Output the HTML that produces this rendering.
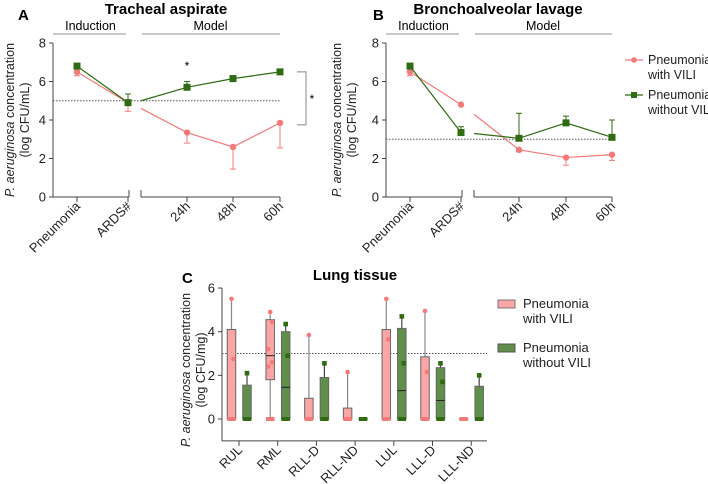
<!DOCTYPE html>
<html><head><meta charset="utf-8"><style>
html,body{margin:0;padding:0;background:#fff}
svg{display:block;font-family:"Liberation Sans",Arial,sans-serif}
</style></head><body>
<svg id="fig" width="708" height="484" viewBox="0 0 708 484">
<g id="static">
<text x="18" y="20" font-size="15" font-weight="bold">A</text>
<text x="166" y="14" font-size="15" font-weight="bold" text-anchor="middle">Tracheal aspirate</text>
<text x="373" y="20" font-size="15" font-weight="bold">B</text>
<text x="498" y="14" font-size="15" font-weight="bold" text-anchor="middle">Bronchoalveolar lavage</text>
<text x="182" y="283" font-size="15" font-weight="bold">C</text>
<text x="355" y="280" font-size="15" font-weight="bold" text-anchor="middle">Lung tissue</text>
<g font-size="12.5" text-anchor="middle" fill="#222">
<text transform="translate(14,120) rotate(-90)"><tspan font-style="italic">P. aeruginosa</tspan> concentration</text>
<text transform="translate(29,120) rotate(-90)">(log CFU/mL)</text>
<text transform="translate(341,120) rotate(-90)"><tspan font-style="italic">P. aeruginosa</tspan> concentration</text>
<text transform="translate(356,120) rotate(-90)">(log CFU/mL)</text>
<text transform="translate(190,370) rotate(-90)"><tspan font-style="italic">P. aeruginosa</tspan> concentration</text>
<text transform="translate(205,370) rotate(-90)">(log CFU/mg)</text>
</g>
<g font-size="12.5" fill="#222">
<line x1="625" y1="60" x2="643" y2="60" stroke="#f47a7a" stroke-width="1.2"/>
<circle cx="634" cy="60" r="2.8" fill="#f47a7a"/>
<text x="648" y="64">Pneumonia</text>
<text x="648" y="79">with VILI</text>
<line x1="625" y1="95" x2="643" y2="95" stroke="#2e6b12" stroke-width="1.2"/>
<rect x="631" y="92" width="6" height="6" fill="#2e6b12"/>
<text x="648" y="99">Pneumonia</text>
<text x="648" y="114">without VILI</text>
</g>
<g font-size="13" fill="#222">
<rect x="498" y="300" width="17" height="8" fill="#fba5a5" stroke="#777"/>
<text x="523" y="308">Pneumonia</text>
<text x="523" y="323">with VILI</text>
<rect x="498" y="344" width="17" height="8" fill="#5f8f4a" stroke="#555"/>
<text x="523" y="352">Pneumonia</text>
<text x="523" y="367">without VILI</text>
</g>
</g>
</svg>
<script>
const lineCats = ["Pneumonia","ARDS#","24h","48h","60h"];
const yTicksAB = [0,2,4,6,8];
const aVili = [6.5,4.9,3.35,2.6,3.85];
const aViliErr = [-0.2,-0.45,-0.55,-1.15,-1.3];
const aNoVili = [6.8,4.9,5.7,6.15,6.5];
const aNoViliErr = [0.05,0.45,0.3,0.15,0.05];
const aStart = [4.6,5.0];
const bVili = [6.5,4.8,2.45,2.05,2.2];
const bViliErr = [-0.2,0,-0.1,-0.4,-0.3];
const bNoVili = [6.8,3.35,3.05,3.85,3.1];
const bNoViliErr = [0.05,0.3,1.3,0.35,0.9];
const bStart = [4.3,3.3];
const aThreshold = 5, bThreshold = 3;

const boxCats = ["RUL","RML","RLL-D","RLL-ND","LUL","LLL-D","LLL-ND"];
const yTicksC = [0,2,4,6];
// [min,q1,median,q3,max]
const cVili = [[0,0,0,4.1,5.5],[0,1.8,2.9,4.55,4.9],[0,0,0,0.95,3.85],[0,0,0,0.5,2.15],[0,0,0,4.1,5.5],[0,0,0,2.85,4.95],[0,0,0,0,0]];
const cNoVili = [[0,0,0,1.55,2.1],[0,0,1.45,4.0,4.35],[0,0,0,1.9,2.55],[0,0,0,0,0],[0,0,1.3,4.15,4.7],[0,0,0.85,2.35,2.55],[0,0,0,1.5,2.0]];
const cViliPts = [[5.5,2.75],[4.9,4.45,3.2,2.6,2.4,0],[3.85],[2.15],[5.5,3.65],[4.95,2.15],[]];
const cNoViliPts = [[2.1],[4.35,2.9],[2.55],[],[4.7,2.55],[2.55,1.7],[2.0]];
const cThreshold = 3;

const NS="http://www.w3.org/2000/svg";
const svg=document.getElementById('fig');
function mk(tag,attrs,parent){const e=document.createElementNS(NS,tag);for(const k in attrs)e.setAttribute(k,attrs[k]);(parent||svg).appendChild(e);return e;}
const RED="#f47a7a", GRN="#2e6b12", AX="#444";

function linePanel(id,x0,xs,seg2,vili,viliE,novili,noviliE,start,thr){
  const y=v=>197-v*19.25;
  const g=mk('g',{});
  
  
  mk('line',{x1:x0,y1:y(8),x2:x0,y2:y(0),stroke:AX},g);
  yTicksAB.forEach(t=>{
    mk('line',{x1:x0-4,y1:y(t),x2:x0,y2:y(t),stroke:AX},g);
    const tx=mk('text',{x:x0-7,y:y(t)+4.5,'font-size':13,'text-anchor':'end',fill:'#222'},g);tx.textContent=t;
    
    
  });
  mk('line',{x1:x0,y1:197,x2:xs[1]+1,y2:197,stroke:AX},g);
  mk('line',{x1:xs[1]+1,y1:190,x2:xs[1]+1,y2:197,stroke:AX},g);
  mk('line',{x1:seg2,y1:190,x2:seg2,y2:197,stroke:AX},g);
  mk('line',{x1:seg2,y1:197,x2:xs[4],y2:197,stroke:AX},g);
  xs.forEach((x,i)=>{
    mk('line',{x1:x,y1:197,x2:x,y2:202,stroke:AX},g);
    const tx=mk('text',{'font-size':13,'text-anchor':'end',fill:'#222',transform:`translate(${x+4},${207}) rotate(-45)`},g);
    tx.textContent=lineCats[i];
    
    
  });
  mk('line',{x1:x0,y1:34,x2:xs[1]-2,y2:34,stroke:'#aaa','stroke-width':1.2},g);
  mk('line',{x1:seg2+1,y1:34,x2:xs[4],y2:34,stroke:'#aaa','stroke-width':1.2},g);
  let t=mk('text',{x:(x0+xs[1])/2,y:30,'font-size':12.5,'text-anchor':'middle'},g);t.textContent='Induction';
  
  
  t=mk('text',{x:(seg2+xs[4])/2,y:30,'font-size':12.5,'text-anchor':'middle'},g);t.textContent='Model';
  
  
  mk('line',{x1:x0,y1:y(thr),x2:xs[4],y2:y(thr),stroke:'#555','stroke-dasharray':'1.5,1.5'},g);
  function series(vals,errs,start,col,sq,name){
    const s=mk('g',{},g);
    
    
    mk('polyline',{points:`${xs[0]},${y(vals[0])} ${xs[1]},${y(vals[1])}`,fill:'none',stroke:col,'stroke-width':1.2},s);
    mk('polyline',{points:`${seg2},${y(start)} `+[2,3,4].map(i=>`${xs[i]},${y(vals[i])}`).join(' '),fill:'none',stroke:col,'stroke-width':1.2},s);
    vals.forEach((v,i)=>{
      const e=v+errs[i];
      if(errs[i]!==0){mk('line',{x1:xs[i],y1:y(v),x2:xs[i],y2:y(e),stroke:col},s);mk('line',{x1:xs[i]-3,y1:y(e),x2:xs[i]+3,y2:y(e),stroke:col},s);}
      let m;
      if(sq)m=mk('rect',{x:xs[i]-3.5,y:y(v)-3.5,width:7,height:7,fill:col},s);
      else m=mk('circle',{cx:xs[i],cy:y(v),r:3.2,fill:col},s);
      
      
    });
  }
  series(vili,viliE,start[0],RED,false,'vili');
  series(novili,noviliE,start[1],GRN,true,'novili');
  return {g,y};
}
const A=linePanel('panel-a',53,[77,128,187,233,280],141,aVili,aViliErr,aNoVili,aNoViliErr,aStart,aThreshold);
let st=mk('text',{x:187,y:70,'font-size':12,'text-anchor':'middle'},A.g);st.textContent='*';


mk('polyline',{points:`297,${A.y(6.5)} 306,${A.y(6.5)} 306,${A.y(3.75)} 297,${A.y(3.75)}`,fill:'none',stroke:'#888'},A.g);
st=mk('text',{x:312,y:103,'font-size':12,'text-anchor':'middle'},A.g);st.textContent='*';


linePanel('panel-b',386,[410,461,519,566,612],474,bVili,bViliErr,bNoVili,bNoViliErr,bStart,bThreshold);

(function(){
  const y=v=>419-v*21.83;
  const x0=222;
  const g=mk('g',{});
  
  
  mk('line',{x1:x0,y1:y(6),x2:x0,y2:y(-1),stroke:AX},g);
  mk('line',{x1:x0,y1:y(-1),x2:487,y2:y(-1),stroke:AX},g);
  yTicksC.forEach(t=>{
    mk('line',{x1:x0-4,y1:y(t),x2:x0,y2:y(t),stroke:AX},g);
    const tx=mk('text',{x:x0-7,y:y(t)+4.5,'font-size':13,'text-anchor':'end',fill:'#222'},g);tx.textContent=t;
    
    
  });
  mk('line',{x1:x0,y1:y(cThreshold),x2:487,y2:y(cThreshold),stroke:'#555','stroke-dasharray':'1.5,1.5'},g);
  const step=38.7, first=239;
  boxCats.forEach((c,i)=>{
    const cx=first+i*step;
    mk('line',{x1:cx,y1:y(-1),x2:cx,y2:y(-1)+5,stroke:AX},g);
    const tx=mk('text',{'font-size':13,'text-anchor':'end',fill:'#222',transform:`translate(${cx+4},${y(-1)+10}) rotate(-45)`},g);
    tx.textContent=c;
    
    
    [[cVili[i],cViliPts[i],cx-7.5,'#fba5a5',RED,'vili','#888'],[cNoVili[i],cNoViliPts[i],cx+8,'#5f8f4a',GRN,'novili','#444']].forEach(([b,pts,bx,fill,pc,nm,ln])=>{
      const w=8.5;
      if(b[4]>b[3]) {mk('line',{x1:bx,y1:y(b[3]),x2:bx,y2:y(b[4]),stroke:ln,'stroke-width':1.2},g);}
      if(b[1]>b[0]) mk('line',{x1:bx,y1:y(b[0]),x2:bx,y2:y(b[1]),stroke:ln,'stroke-width':1.2},g);
      const r=mk('rect',{x:bx-w/2,y:y(b[3]),width:w,height:Math.max(y(b[1])-y(b[3]),0.01),fill:fill,stroke:'#666','stroke-width':1},g);
      
      
      mk('line',{x1:bx-w/2,y1:y(b[2]),x2:bx+w/2,y2:y(b[2]),stroke:'#222','stroke-width':1},g);
      mk('rect',{x:bx-w/2,y:y(0)-2,width:w,height:4,fill:pc},g);
      pts.forEach((p,k)=>{
        const off=(k%2? 2:-2);
        let m;
        if(nm==='vili') m=mk('circle',{cx:bx+(p===b[4]?0:off),cy:y(p),r:2.3,fill:pc},g);
        else m=mk('rect',{x:bx-2.3+(p===b[4]?0:off),y:y(p)-2.3,width:4.6,height:4.6,fill:pc},g);
        
        
      });
    });
  });
})();
</script>
</body></html>
